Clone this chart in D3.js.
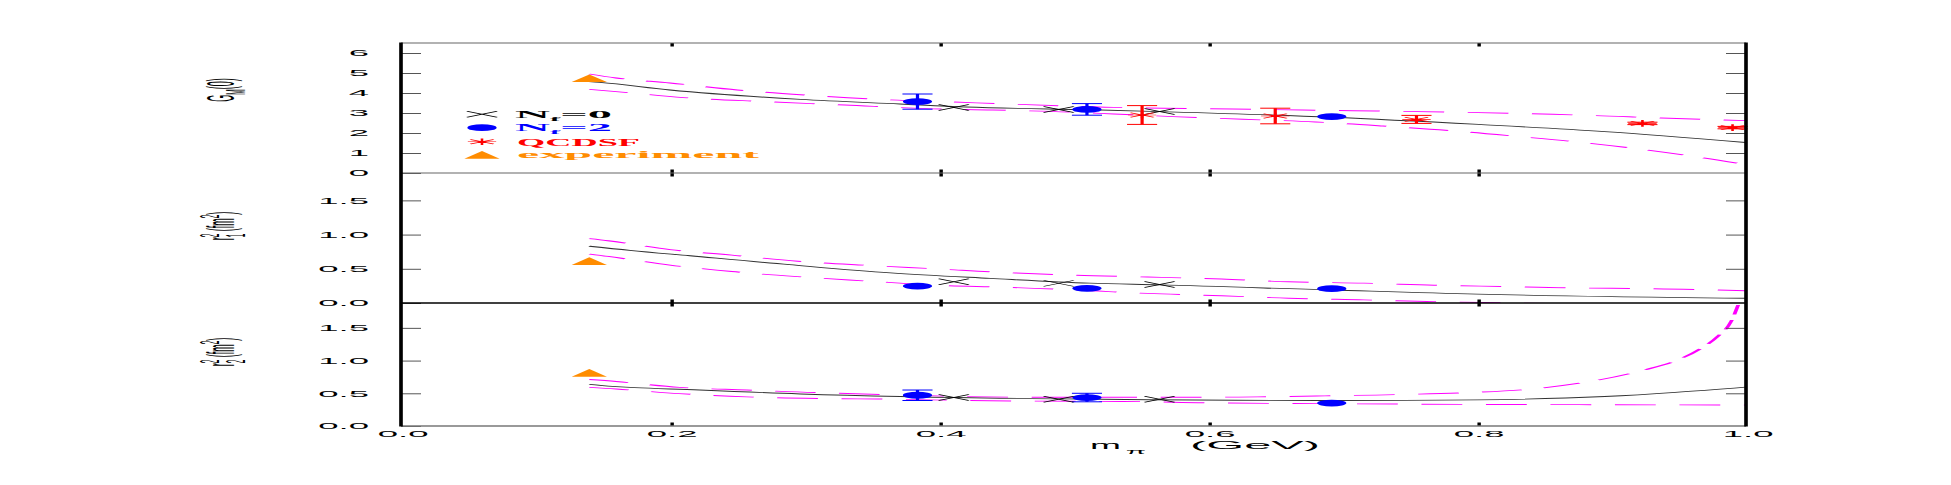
<!DOCTYPE html>
<html>
<head>
<meta charset="utf-8">
<script src="https://cdn.jsdelivr.net/npm/d3@7"></script>
<style>
  body { margin: 0; background: #fff; }
  svg { display: block; }
</style>
</head>
<body>
<svg id="chart" width="1951" height="485"></svg>
<script>
// the original figure is squeezed vertically, so everything is drawn in a narrow
// frame and stretched along x by S (text, dashes and strokes stretch with it)
const S = 4.3;
const X0 = 401, X1 = 1746;

// pion masses (GeV)
const mNf0 = [0.411, 0.489, 0.564];
const mNf2 = [0.384, 0.510, 0.692];
const mQcdsf = [0.551, 0.650, 0.755, 0.923, 0.990];
const mExp = [0.14];

// G_M(0)
const gmNf0 = [3.28, 3.18, 3.07];
const gmNf2 = [3.57, 3.18, 2.82];
const gmNf2Err = [0.38, 0.29, 0];
const gmQcdsf = [2.90, 2.85, 2.68, 2.48, 2.27];
const gmQcdsfErr = [0.47, 0.39, 0.20, 0.06, 0.06];
const gmExp = [4.7];

// <r1^2>
const r1Nf0 = [0.31, 0.287, 0.27];
const r1Nf2 = [0.248, 0.214, 0.21];
const r1Exp = [0.6];

// <r2^2>
const r2Nf0 = [0.435, 0.41, 0.41];
const r2Nf2 = [0.47, 0.435, 0.35];
const r2Nf2Err = [0.08, 0.065, 0];
const r2Exp = [0.8];

// fit curves [m_pi, value]
const gmFit = [[0.14,4.57],[0.148,4.53],[0.2,4.15],[0.297,3.68],[0.371,3.45],[0.42,3.3],[0.52,3.15],[0.564,3.07],[0.692,2.79],[0.801,2.43],[0.895,2.07],[1.0,1.52]];
const gmUp = [[0.14,4.95],[0.16,4.75],[0.2,4.5],[0.25,4.15],[0.3,3.9],[0.36,3.67],[0.41,3.55],[0.46,3.43],[0.51,3.32],[0.53,3.28],[0.618,3.2],[0.67,3.15],[0.725,3.1],[0.778,3.05],[0.83,2.98],[0.884,2.88],[0.937,2.75],[1.0,2.62]];
const gmLow = [[0.14,4.18],[0.16,4.07],[0.21,3.77],[0.27,3.57],[0.33,3.4],[0.39,3.22],[0.44,3.15],[0.5,3.04],[0.53,2.95],[0.574,2.82],[0.626,2.69],[0.68,2.55],[0.73,2.35],[0.78,2.12],[0.83,1.83],[0.878,1.53],[0.924,1.17],[0.968,0.76],[1.0,0.42]];

const r1Fit = [[0.14,0.83],[0.17,0.77],[0.215,0.69],[0.289,0.56],[0.364,0.44],[0.438,0.36],[0.512,0.29],[0.564,0.265],[0.692,0.19],[0.8,0.13],[1.0,0.07]];
const r1Up = [[0.14,0.94],[0.154,0.91],[0.2,0.78],[0.246,0.70],[0.295,0.61],[0.347,0.55],[0.397,0.5],[0.45,0.445],[0.502,0.405],[0.555,0.38],[0.61,0.35],[0.66,0.31],[0.716,0.29],[0.768,0.26],[0.82,0.24],[0.874,0.22],[0.927,0.21],[1.0,0.18]];
const r1Low = [[0.14,0.715],[0.154,0.68],[0.2,0.555],[0.246,0.46],[0.295,0.385],[0.347,0.32],[0.397,0.26],[0.45,0.23],[0.502,0.19],[0.555,0.14],[0.61,0.105],[0.66,0.07],[0.716,0.045],[0.768,0.02],[0.82,0.003],[0.9,-0.02],[1.0,-0.05]];

const r2Fit = [[0.14,0.635],[0.148,0.62],[0.222,0.55],[0.297,0.49],[0.371,0.45],[0.445,0.425],[0.52,0.41],[0.692,0.39],[0.8,0.4],[0.895,0.45],[1.0,0.595]];
const r2Up = [[0.14,0.71],[0.16,0.68],[0.207,0.59],[0.257,0.55],[0.31,0.51],[0.365,0.477],[0.42,0.45],[0.473,0.44],[0.537,0.44],[0.6,0.44],[0.637,0.445],[0.687,0.46],[0.74,0.48],[0.793,0.51],[0.843,0.57],[0.887,0.69],[0.925,0.86],[0.948,1.0],[0.966,1.18],[0.979,1.37],[0.989,1.6],[0.996,1.95]];
const r2Low = [[0.14,0.59],[0.16,0.565],[0.207,0.495],[0.257,0.445],[0.31,0.42],[0.365,0.41],[0.42,0.39],[0.473,0.38],[0.537,0.375],[0.6,0.355],[0.7,0.34],[0.8,0.33],[0.9,0.325],[1.0,0.32]];

const xTicks = [0, 0.2, 0.4, 0.6, 0.8, 1.0];
const gmTicks = [0, 1, 2, 3, 4, 5, 6];
const rTicks = [0, 0.5, 1.0, 1.5];

const panels = [
  {id: "gm", top: 43, bottom: 173, yMax: 6.5, ticks: gmTicks, fmt: d3.format("d"),
   nf0: gmNf0, nf2: gmNf2, nf2Err: gmNf2Err, qcdsf: gmQcdsf, qcdsfErr: gmQcdsfErr, exp: gmExp,
   fit: gmFit, up: gmUp, low: gmLow, labelY: 90},
  {id: "r1", top: 173, bottom: 303, yMax: 1.9, ticks: rTicks, fmt: d3.format(".1f"),
   nf0: r1Nf0, nf2: r1Nf2, nf2Err: null, qcdsf: null, exp: r1Exp,
   fit: r1Fit, up: r1Up, low: r1Low, labelY: 226},
  {id: "r2", top: 303, bottom: 426, yMax: 1.88, ticks: rTicks, fmt: d3.format(".1f"),
   nf0: r2Nf0, nf2: r2Nf2, nf2Err: r2Nf2Err, qcdsf: null, exp: r2Exp,
   fit: r2Fit, up: r2Up, low: r2Low, labelY: 352}
];

const BLUE = "#0000ff", RED = "#ff0000", ORANGE = "#ff8c00", MAGENTA = "#ff00ff";
const sans = "'Liberation Sans', Arial, sans-serif";
const serif = "'Liberation Serif', 'Times New Roman', serif";

const svg = d3.select("#chart");
const g = svg.append("g").attr("transform", `scale(${S},1)`);

const x = d3.scaleLinear().domain([0, 1]).range([X0 / S, X1 / S]);

// marker shapes (unstretched units)
const crossPath = "M-3.5,-3L3.5,3M-3.5,3L3.5,-3";
const starPath = "M0,-3.3V3.3M-3.3,0H3.3M-2.7,-2.2L2.7,2.2M-2.7,2.2L2.7,-2.2";
const triPath = "M0,-4.6L4.1,3.1L-4.1,3.1Z";

function cross(sel, cx, cy) {
  sel.append("path").attr("d", crossPath).attr("transform", `translate(${cx},${cy})`)
    .attr("fill", "none").attr("stroke", "#000").attr("stroke-width", 0.6);
}
function dot(sel, cx, cy) {
  sel.append("circle").attr("cx", cx).attr("cy", cy).attr("r", 3.4).attr("fill", BLUE);
}
function star(sel, cx, cy) {
  sel.append("path").attr("d", starPath).attr("transform", `translate(${cx},${cy})`)
    .attr("fill", "none").attr("stroke", RED).attr("stroke-width", 0.6);
}
function tri(sel, cx, cy) {
  sel.append("path").attr("d", triPath).attr("transform", `translate(${cx},${cy})`)
    .attr("fill", ORANGE);
}
function errBar(sel, cx, y, lo, hi, color) {
  sel.append("line").attr("x1", cx).attr("x2", cx).attr("y1", y(lo)).attr("y2", y(hi))
    .attr("stroke", color).attr("stroke-width", 0.75);
  [lo, hi].forEach(v => sel.append("line")
    .attr("x1", cx - 3.5).attr("x2", cx + 3.5).attr("y1", y(v)).attr("y2", y(v))
    .attr("stroke", color).attr("stroke-width", 1));
}
// text piece placed by screen x and screen width
function piece(sel, sx, sw, yb, size, str, opts) {
  const t = sel.append("text").attr("x", sx / S).attr("y", yb)
    .attr("font-family", opts.family).attr("font-size", size)
    .attr("textLength", sw / S).attr("lengthAdjust", "spacingAndGlyphs")
    .attr("fill", opts.color || "#000").text(str);
  if (opts.bold) t.attr("font-weight", "bold");
  return t;
}

panels.forEach((p, i) => {
  const y = d3.scaleLinear().domain([0, p.yMax]).range([p.bottom, p.top]);
  const line = d3.line().x(d => x(d[0])).y(d => y(d[1])).curve(d3.curveMonotoneX);

  g.append("clipPath").attr("id", "clip-" + p.id)
    .append("rect").attr("x", x(0)).attr("y", p.top)
    .attr("width", x(1) - x(0)).attr("height", p.bottom - p.top);

  const plot = g.append("g").attr("clip-path", `url(#clip-${p.id})`);

  plot.append("path").datum(p.fit).attr("d", line)
    .attr("fill", "none").attr("stroke", "#333").attr("stroke-width", 0.9);
  [p.up, p.low].forEach(c => plot.append("path").datum(c).attr("d", line)
    .attr("fill", "none").attr("stroke", MAGENTA).attr("stroke-width", 0.9)
    .attr("stroke-dasharray", "9.5,5.5"));

  // points
  const pts = g.append("g");
  p.nf2.forEach((v, k) => {
    if (p.nf2Err && p.nf2Err[k] > 0) errBar(pts, x(mNf2[k]), y, v - p.nf2Err[k], v + p.nf2Err[k], BLUE);
    dot(pts, x(mNf2[k]), y(v));
  });
  p.nf0.forEach((v, k) => cross(pts, x(mNf0[k]), y(v)));
  if (p.qcdsf) p.qcdsf.forEach((v, k) => {
    errBar(pts, x(mQcdsf[k]), y, v - p.qcdsfErr[k], v + p.qcdsfErr[k], RED);
    star(pts, x(mQcdsf[k]), y(v));
  });
  p.exp.forEach((v, k) => tri(pts, x(mExp[k]), y(v)));

  // y axes with inward ticks
  const yl = g.append("g").attr("transform", `translate(${x(0)},0)`)
    .call(d3.axisLeft(y).tickValues(p.ticks).tickFormat(p.fmt)
      .tickSizeInner(-20 / S).tickSizeOuter(0).tickPadding(32 / S));
  const yr = g.append("g").attr("transform", `translate(${x(1)},0)`)
    .call(d3.axisRight(y).tickValues(p.ticks.filter(t => t > 0)).tickFormat("")
      .tickSizeInner(-20 / S).tickSizeOuter(0));
  [yl, yr].forEach(a => {
    a.select(".domain").remove();
    a.selectAll(".tick line").attr("stroke", "#555").attr("stroke-width", 1);
  });
  yl.selectAll("text").attr("font-family", sans).attr("font-size", 8.5).attr("fill", "#000");

  // x ticks, inward on top and bottom of each panel
  const inner = xTicks.slice(1, -1);
  const xt = g.append("g").attr("transform", `translate(0,${p.top})`)
    .call(d3.axisTop(x).tickValues(inner).tickFormat("").tickSizeInner(-3.5).tickSizeOuter(0));
  const xb = g.append("g").attr("transform", `translate(0,${p.bottom})`)
    .call(d3.axisBottom(x).tickValues(inner).tickFormat("").tickSizeInner(-3.5).tickSizeOuter(0));
  [xt, xb].forEach(a => {
    a.select(".domain").remove();
    a.selectAll(".tick line").attr("stroke", "#000").attr("stroke-width", 0.8);
  });

  // panel top border
  g.append("line").attr("x1", x(0)).attr("x2", x(1)).attr("y1", p.top).attr("y2", p.top)
    .attr("stroke", i === 2 ? "#000" : "#666").attr("stroke-width", i === 2 ? 1.6 : 1.2);
});

// bottom border + x labels
g.append("line").attr("x1", x(0)).attr("x2", x(1)).attr("y1", 426).attr("y2", 426)
  .attr("stroke", "#777").attr("stroke-width", 1.4);
const xa = g.append("g").attr("transform", "translate(0,426)")
  .call(d3.axisBottom(x).tickValues(xTicks).tickFormat(d3.format(".1f"))
    .tickSize(0).tickPadding(4.7));
xa.select(".domain").remove();
xa.selectAll("text").attr("font-family", sans).attr("font-size", 8.5).attr("fill", "#000");

// thick left/right frame
[x(0), x(1)].forEach(xx => g.append("line").attr("x1", xx).attr("x2", xx)
  .attr("y1", 42.5).attr("y2", 426.5).attr("stroke", "#000").attr("stroke-width", 0.85));

// axis title  m_pi (GeV)
piece(g, 1090, 31, 449, 10, "m", {family: sans});
piece(g, 1126, 20, 454.5, 7, "π", {family: sans});
piece(g, 1190, 130, 449, 10, "(GeV)", {family: sans});

// rotated y titles
function yTitle(cy, build) {
  const t = g.append("text").attr("transform", `translate(${234 / S},${cy}) rotate(-90)`)
    .attr("text-anchor", "middle").attr("font-family", sans).attr("font-size", 9).attr("fill", "#000");
  build(t);
}
yTitle(panels[0].labelY, t => {
  t.append("tspan").text("G");
  t.append("tspan").attr("font-size", 6.5).attr("dy", 2.5).text("M");
  t.append("tspan").attr("dy", -2.5).text("(0)");
});
[1, 2].forEach(k => yTitle(panels[k].labelY, t => {
  t.append("tspan").text("r");
  t.append("tspan").attr("font-size", 6.5).attr("dy", 2.5).text(k);
  t.append("tspan").attr("font-size", 6.5).attr("dx", -3.6).attr("dy", -6).text("2");
  t.append("tspan").attr("dy", 3.5).text(" (fm");
  t.append("tspan").attr("font-size", 6.5).attr("dy", -3.5).text("2");
  t.append("tspan").attr("dy", 3.5).text(")");
}));

// legend
const lgX = 482 / S;
const rows = [114.3, 127.7, 141.7, 155];
const lg = g.append("g");
cross(lg, lgX, rows[0]);
dot(lg, lgX, rows[1]);
star(lg, lgX, rows[2]);
tri(lg, lgX, rows[3] + 0.7);

function nfLabel(yb, val, color) {
  const t = lg.append("text").attr("x", 515 / S).attr("y", yb)
    .attr("font-family", serif).attr("font-weight", "bold").attr("font-size", 11)
    .attr("fill", color).attr("textLength", 97 / S).attr("lengthAdjust", "spacingAndGlyphs");
  t.append("tspan").text("N");
  t.append("tspan").attr("font-size", 7).attr("dy", 2.4).text("f");
  t.append("tspan").attr("dy", -2.4).text("=" + val);
}
nfLabel(118.3, "0", "#000");
nfLabel(131.5, "2", BLUE);
piece(lg, 517, 123, 146, 10.5, "QCDSF", {family: serif, bold: true, color: RED});
piece(lg, 517, 242, 158.5, 11, "experiment", {family: serif, bold: true, color: ORANGE});
</script>
</body>
</html>
